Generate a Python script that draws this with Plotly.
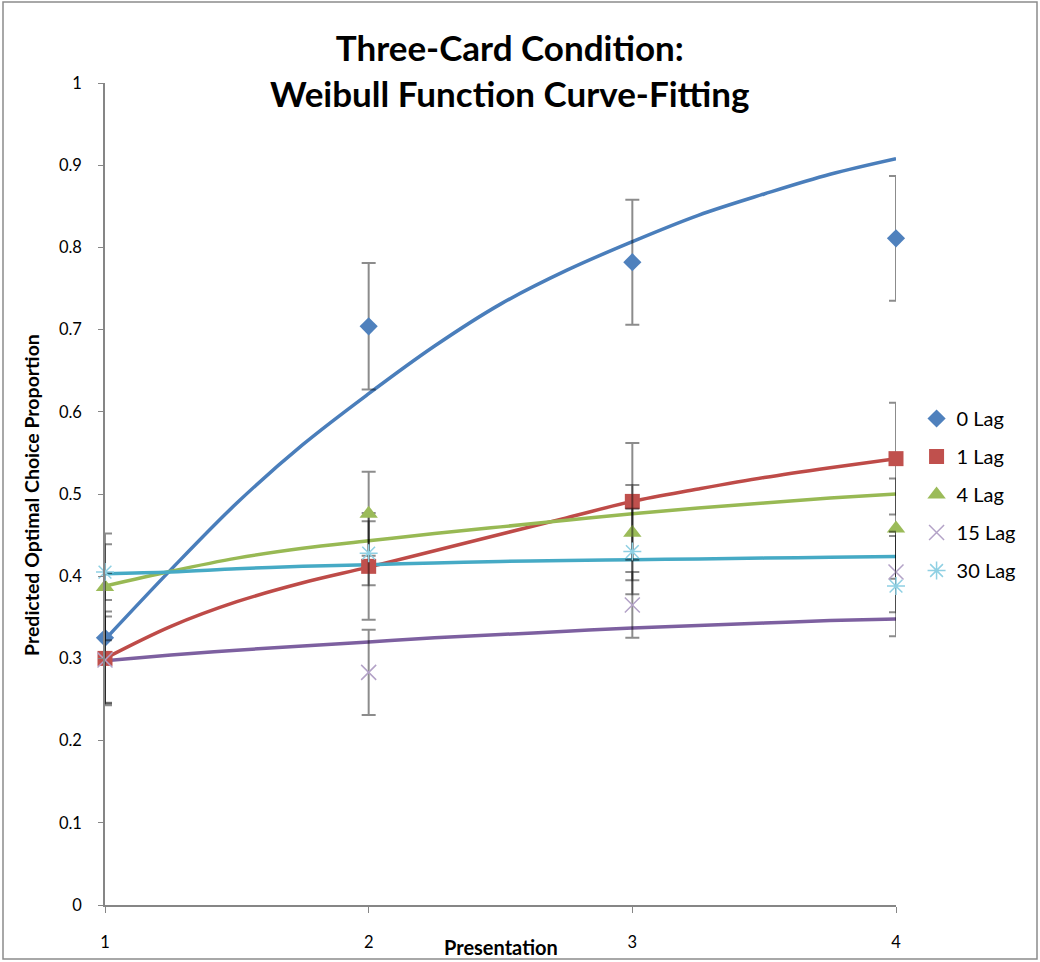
import plotly.graph_objects as go

# Observed data (mean predicted optimal choice proportion per presentation)
presentation = [1, 2, 3, 4]
series_names = ["0 Lag", "1 Lag", "4 Lag", "15 Lag", "30 Lag"]
lag0 = [0.325, 0.704, 0.782, 0.811]
lag1 = [0.300, 0.412, 0.491, 0.543]
lag4 = [0.387, 0.476, 0.453, 0.458]
lag15 = [0.298, 0.283, 0.365, 0.405]
lag30 = [0.405, 0.428, 0.430, 0.388]
err0 = [0.079, 0.077, 0.076, 0.076]
err1 = [0.057, 0.065, 0.071, 0.068]
err4 = [0.065, 0.051, 0.058, 0.061]
err15 = [0.053, 0.052, 0.040, 0.049]
err30 = [0.034, 0.039, 0.052, 0.061]

# Weibull fitted curves
fit_x = [1, 1.25, 1.5, 1.75, 2, 2.25, 2.5, 2.75, 3, 3.25, 3.5, 3.75, 4]
fit0 = [0.323, 0.408, 0.489, 0.560, 0.622, 0.680, 0.731, 0.772, 0.807, 0.839, 0.865, 0.889, 0.908]
fit1 = [0.300, 0.339, 0.369, 0.392, 0.411, 0.431, 0.451, 0.471, 0.491, 0.506, 0.520, 0.532, 0.543]
fit4 = [0.388, 0.406, 0.422, 0.434, 0.443, 0.452, 0.460, 0.468, 0.476, 0.483, 0.489, 0.495, 0.500]
fit15 = [0.297, 0.304, 0.310, 0.315, 0.320, 0.325, 0.329, 0.333, 0.337, 0.340, 0.343, 0.346, 0.348]
fit30 = [0.403, 0.405, 0.409, 0.412, 0.414, 0.416, 0.418, 0.419, 0.420, 0.421, 0.422, 0.423, 0.424]

y_ticks = [0, 0.1, 0.2, 0.3, 0.4, 0.5, 0.6, 0.7, 0.8, 0.9, 1]
y_tick_text = ["0", "0.1", "0.2", "0.3", "0.4", "0.5", "0.6", "0.7", "0.8", "0.9", "1"]

FONT = "Lato"
line_colors = ["#4A7EBB", "#BE4B48", "#98B954", "#7D60A0", "#46AAC5"]
marker_styles = [
    dict(symbol="diamond", size=14, color="#4F81BD"),
    dict(symbol="square", size=15, color="#C0504D"),
    dict(symbol="triangle-up", size=16, color="#9BBB59"),
    dict(symbol="x-thin", size=15, color="#B3A2C7", line=dict(color="#B3A2C7", width=1.5)),
    dict(symbol="asterisk", size=15, color="#8FD0E3", line=dict(color="#8FD0E3", width=1.5)),
]

obs = [lag0, lag1, lag4, lag15, lag30]
errs = [err0, err1, err4, err15, err30]
fits = [fit0, fit1, fit4, fit15, fit30]

fig = go.Figure()

for name, f, c in zip(series_names, fits, line_colors):
    fig.add_trace(go.Scatter(
        x=fit_x, y=f, mode="lines", line=dict(color=c, width=3.5, shape="spline"),
        showlegend=False, hoverinfo="skip", name=name + " fit", cliponaxis=False,
    ))

for name, o, e, ms in zip(series_names, obs, errs, marker_styles):
    fig.add_trace(go.Scatter(
        x=presentation, y=o, mode="markers", name=name, marker=ms,
        legendgroup=name, cliponaxis=False,
        error_y=dict(type="data", array=e, visible=True,
                     color="rgba(0,0,0,0.45)", thickness=2, width=7),
    ))

fig.update_layout(
    width=1040, height=962,
    margin=dict(l=105, r=144, t=83, b=57),
    paper_bgcolor="white", plot_bgcolor="white",
    font=dict(family=FONT, color="#000000", size=16),
    showlegend=True,
    legend=dict(x=1.026, y=0.6156, xanchor="left", yanchor="top",
                font=dict(family=FONT, size=20, color="#000000"),
                itemwidth=30, tracegroupgap=9, bgcolor="rgba(0,0,0,0)"),
    xaxis=dict(range=[1, 4], tickvals=presentation, ticktext=[str(v) for v in presentation],
               showgrid=False, zeroline=False, showline=True, linecolor="#868686", linewidth=1.5,
               ticks="outside", ticklen=6, tickcolor="#868686", ticklabelstandoff=15,
               automargin=False,
               tickfont=dict(family=FONT, size=16.5, color="#000000")),
    yaxis=dict(range=[0, 1], tickvals=y_ticks, ticktext=y_tick_text,
               showgrid=False, zeroline=False, showline=True, linecolor="#868686", linewidth=1.5,
               ticks="outside", ticklen=5, tickcolor="#868686", ticklabelstandoff=13,
               automargin=False,
               tickfont=dict(family=FONT, size=16.5, color="#000000")),
    annotations=[
        dict(text="<b>Three-Card Condition:<br>Weibull Function Curve-Fitting</b>",
             xref="paper", yref="paper", x=(510 - 105) / 791, y=(905 - 70) / 822,
             xanchor="center", yanchor="middle", showarrow=False,
             font=dict(family=FONT, size=35, color="#000000")),
        dict(text="<b>Presentation</b>", xref="paper", yref="paper",
             x=(501 - 105) / 791, y=(905 - 947) / 822, xanchor="center", yanchor="middle",
             showarrow=False, font=dict(family=FONT, size=20, color="#000000")),
        dict(text="<b>Predicted Optimal Choice Proportion</b>", xref="paper", yref="paper",
             x=(31 - 105) / 791, y=(905 - 495) / 822, xanchor="center", yanchor="middle",
             textangle=-90, showarrow=False, font=dict(family=FONT, size=19.5, color="#000000")),
    ],
    shapes=[
        dict(type="rect", xref="paper", yref="paper",
             x0=(3 - 105) / 791, x1=(1037 - 105) / 791,
             y0=(905 - 959) / 822, y1=(905 - 2) / 822,
             line=dict(color="#8C8C8C", width=1.5), fillcolor="rgba(0,0,0,0)", layer="below"),
    ],
)

fig.write_html(
    "out.html",
    config={"displayModeBar": False},
    post_script="document.body.style.margin='0';document.body.style.overflow='hidden';",
)
